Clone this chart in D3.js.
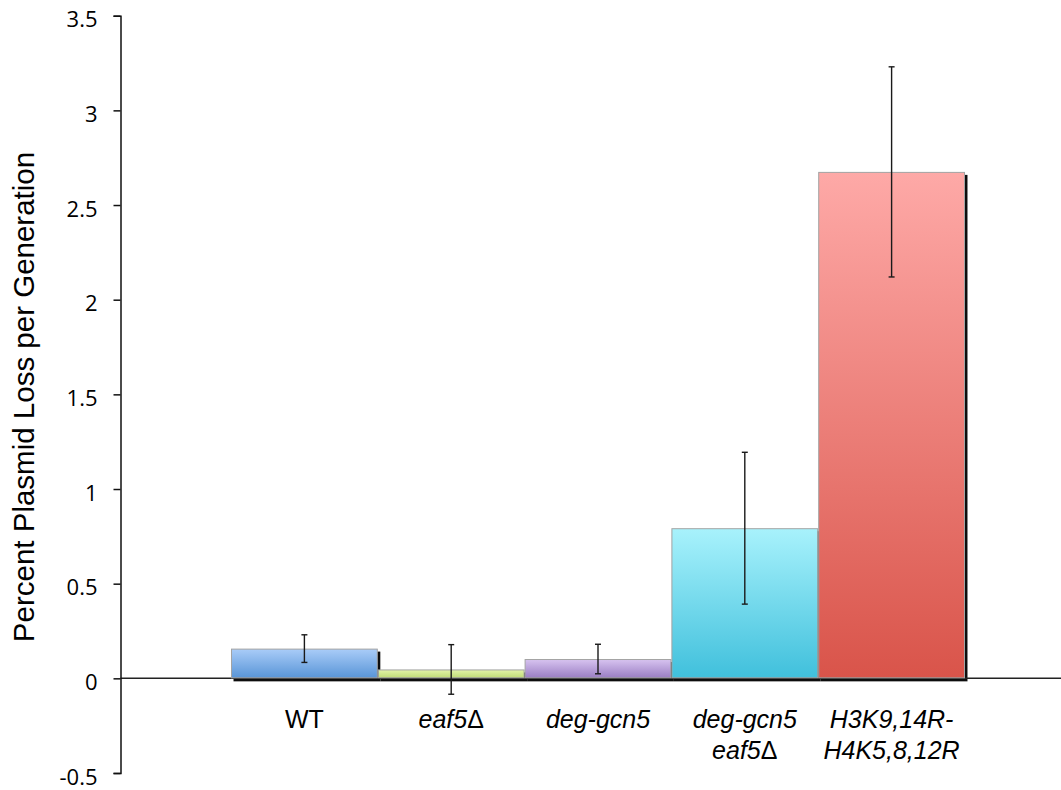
<!DOCTYPE html>
<html>
<head>
<meta charset="utf-8">
<script src="https://cdn.jsdelivr.net/npm/d3@7"></script>
<style>
  html, body { margin: 0; padding: 0; background: #fff; }
  svg { display: block; }
</style>
</head>
<body>
<svg id="chart" width="1061" height="790"></svg>
<script>
// Strains (label lines), mean plasmid loss and error half-widths
const categories = ["WT", "eaf5Δ", "deg-gcn5", "deg-gcn5 eaf5Δ", "H3K9,14R-H4K5,8,12R"];
const labelLines = [["WT"], ["eaf5Δ"], ["deg-gcn5"], ["deg-gcn5", "eaf5Δ"], ["H3K9,14R-", "H4K5,8,12R"]];
const italicLabel = [false, true, true, true, true];
const values = [0.157, 0.047, 0.102, 0.793, 2.675];
const errors = [0.073, 0.131, 0.078, 0.401, 0.555];
const yTicks = [-0.5, 0, 0.5, 1, 1.5, 2, 2.5, 3, 3.5];
const topColors = ["#a9ccf8", "#e2f3a8", "#d7c3f0", "#a8f2fc", "#fea9a7"];
const bottomColors = ["#5995d7", "#bfdb76", "#9a7ec3", "#40c0dc", "#d9544a"];

const svg = d3.select("#chart");
const axisX = 120.5;

const y = d3.scaleLinear().domain([-0.5, 3.5]).range([773, 15.7]);
const x = d3.scaleBand().domain(categories).range([231, 965]).padding(0);

// vertical gradients, one per bar
const defs = svg.append("defs");
categories.forEach((c, i) => {
  const g = defs.append("linearGradient")
    .attr("id", "grad" + i).attr("x1", 0).attr("y1", 0).attr("x2", 0).attr("y2", 1);
  g.append("stop").attr("offset", "0%").attr("stop-color", topColors[i]);
  g.append("stop").attr("offset", "100%").attr("stop-color", bottomColors[i]);
});
defs.append("filter").attr("id", "soft")
  .append("feGaussianBlur").attr("stdDeviation", 0.6);

// drop shadows
svg.append("g").selectAll("rect").data(values).join("rect")
  .attr("x", (d, i) => x(categories[i]) + 2.5)
  .attr("y", d => y(d) + 3)
  .attr("width", x.bandwidth())
  .attr("height", d => y(0) - y(d))
  .attr("fill", "#111")
  .attr("filter", "url(#soft)");

// zero line
svg.append("line")
  .attr("x1", axisX).attr("x2", 1061)
  .attr("y1", y(0)).attr("y2", y(0))
  .attr("stroke", "#222").attr("stroke-width", 1.5);

// bars
svg.append("g").selectAll("rect").data(values).join("rect")
  .attr("x", (d, i) => x(categories[i]) + 0.5)
  .attr("y", d => y(d) + 0.5)
  .attr("width", x.bandwidth() - 1)
  .attr("height", d => y(0) - y(d) - 1)
  .attr("fill", (d, i) => `url(#grad${i})`)
  .attr("stroke", "#a3a3a3")
  .attr("stroke-width", 1);

// error bars
const eb = svg.append("g").attr("stroke", "#1a1a1a").attr("stroke-width", 1.4);
values.forEach((v, i) => {
  const cx = x(categories[i]) + x.bandwidth() / 2;
  const hi = y(v + errors[i]), lo = y(v - errors[i]);
  eb.append("line").attr("x1", cx).attr("x2", cx).attr("y1", hi).attr("y2", lo);
  eb.append("line").attr("x1", cx - 3).attr("x2", cx + 3).attr("y1", hi).attr("y2", hi);
  eb.append("line").attr("x1", cx - 3).attr("x2", cx + 3).attr("y1", lo).attr("y2", lo);
});

// y axis
const yAxis = svg.append("g")
  .attr("transform", `translate(${axisX},0)`)
  .call(d3.axisLeft(y).tickValues(yTicks).tickSize(7).tickPadding(16)
    .tickFormat(d => String(d)));
yAxis.select(".domain").attr("stroke", "#111").attr("stroke-width", 1.5);
yAxis.selectAll(".tick line").attr("stroke", "#111").attr("stroke-width", 1.5);
yAxis.selectAll(".tick text")
  .attr("font-family", "'Open Sans', sans-serif")
  .attr("font-size", 22)
  .attr("fill", "#000")
  .attr("dy", "0.5em");

// category labels (the Δ is set upright)
const labels = svg.append("g")
  .attr("font-family", "'Liberation Sans', Arial, sans-serif")
  .attr("font-size", 25)
  .attr("fill", "#000")
  .attr("text-anchor", "middle");
categories.forEach((c, i) => {
  const cx = x(c) + x.bandwidth() / 2;
  const t = labels.append("text")
    .attr("x", cx)
    .attr("y", 728)
    .attr("font-style", italicLabel[i] ? "italic" : "normal");
  labelLines[i].forEach((line, j) => {
    const dy = j === 0 ? 0 : 31;
    if (line.endsWith("Δ")) {
      t.append("tspan").attr("x", cx).attr("dy", dy).text(line.slice(0, -1));
      t.append("tspan").attr("font-style", "normal").text("Δ");
    } else {
      t.append("tspan").attr("x", cx).attr("dy", dy).text(line);
    }
  });
});

// y axis title
svg.append("text")
  .attr("transform", `translate(34,397) rotate(-90)`)
  .attr("text-anchor", "middle")
  .attr("font-family", "'Liberation Sans', Arial, sans-serif")
  .attr("font-size", 29.5)
  .attr("fill", "#000")
  .text("Percent Plasmid Loss per Generation");
</script>
</body>
</html>
